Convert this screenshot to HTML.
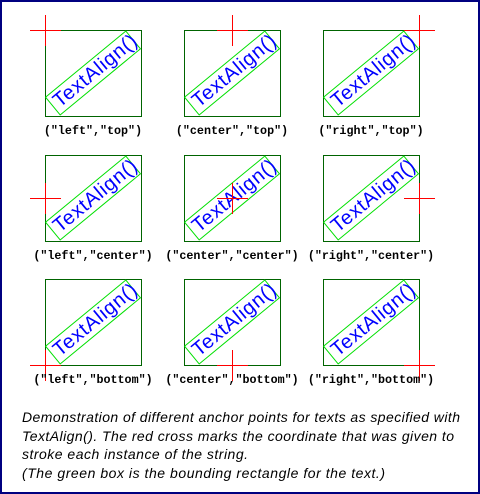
<!DOCTYPE html>
<html><head><meta charset="utf-8"><style>
html,body{margin:0;padding:0;background:#fff}
svg{display:block}
</style></head><body>
<svg width="480" height="494" viewBox="0 0 480 494" xmlns="http://www.w3.org/2000/svg">
<rect x="1" y="1" width="478" height="492" fill="#fff" stroke="#000080" stroke-width="2" shape-rendering="crispEdges"/>
<g id="cells"></g>
<g font-family="Liberation Sans, sans-serif" font-style="italic" font-size="14" fill="#000">
<text x="22" y="422" textLength="438">Demonstration of different anchor points for texts as specified with</text>
<text x="22" y="441" textLength="432">TextAlign(). The red cross marks the coordinate that was given to</text>
<text x="22" y="459" textLength="226">stroke each instance of the string.</text>
<text x="22" y="478" textLength="363">(The green box is the bounding rectangle for the text.)</text>
</g>
</svg>
<script>
const hAligns=["left","center","right"];
const vAligns=["top","center","bottom"];
const colLeft=[45,184,323];
const rowTop=[30,155,279];
const W=96,H=86,ang=-39.5,tw=104,th=23;
const g=document.getElementById('cells');
const NS="http://www.w3.org/2000/svg";
function mk(t,a){const e=document.createElementNS(NS,t);for(const k in a)e.setAttribute(k,a[k]);g.appendChild(e);return e;}
vAligns.forEach((v,ri)=>{hAligns.forEach((h,ci)=>{
 const x0=colLeft[ci],y0=rowTop[ri],cx=x0+W/2,cy=y0+H/2;
 const box=mk('rect',{x:x0+0.5,y:y0+0.5,width:W,height:H,fill:'none',stroke:'#006400','stroke-width':1,'shape-rendering':'crispEdges'});
 
 
 const rr=mk('rect',{x:cx-tw/2,y:cy-th/2,width:tw,height:th,fill:'none',stroke:'#00e000','stroke-width':1,transform:`rotate(${ang} ${cx} ${cy})`});
 
 
 const t=mk('text',{x:cx-tw/2+4,y:cy+6,'text-anchor':'start','font-family':'Liberation Sans, sans-serif','font-size':20,textLength:tw-2,fill:'#0000ff',transform:`rotate(${ang} ${cx} ${cy})`});
 t.textContent='TextAlign()';
 
 
 const ax=x0+W*ci/2, ay=y0+H*ri/2;
 const c1=mk('line',{x1:ax-15,y1:ay+0.5,x2:ax+16,y2:ay+0.5,stroke:'#ff0000','stroke-width':1,'shape-rendering':'crispEdges'});
 
 
 const c2=mk('line',{x1:ax+0.5,y1:ay-15,x2:ax+0.5,y2:ay+16,stroke:'#ff0000','stroke-width':1,'shape-rendering':'crispEdges'});
 
 
 const lb=mk('text',{x:cx,y:y0+104,'text-anchor':'middle','font-family':'Liberation Mono, monospace','font-weight':'bold','font-size':11.7,fill:'#000'});
 lb.textContent=`("${h}","${v}")`;
 
 
});});
</script>
</body></html>
